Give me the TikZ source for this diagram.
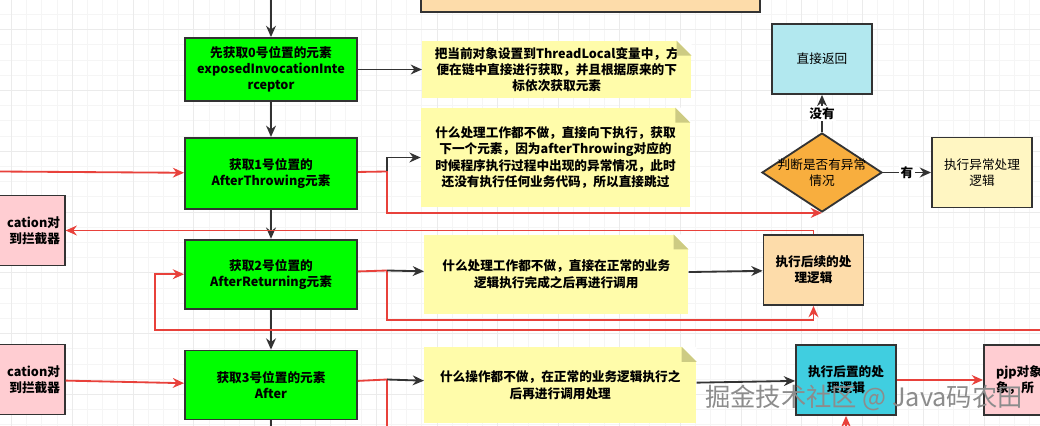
\documentclass[tikz,border=0pt]{standalone}
\usepackage{fontspec}
\setmainfont{Noto Sans CJK SC}
\usepackage{xcolor}
\usepackage{tikz}
\usetikzlibrary{arrows.meta,positioning,calc,shapes.geometric}

\definecolor{stagegreen}{HTML}{00FF00}
\definecolor{noteyellow}{HTML}{FFFCAA}
\definecolor{notefold}{HTML}{CDCB83}
\definecolor{peach}{HTML}{FDDCAA}
\definecolor{paleblue}{HTML}{B2E8EF}
\definecolor{paleyellow}{HTML}{FFF6C2}
\definecolor{cyanbox}{HTML}{40CEE0}
\definecolor{pinkbox}{HTML}{FFCDD2}
\definecolor{diamondorange}{HTML}{F8AE3E}
\definecolor{flowred}{HTML}{E8413B}
\definecolor{linegray}{HTML}{333333}

\newcommand{\boldtext}{\fontsize{9}{11.5}\selectfont\bfseries}
\newcommand{\plaintext}{\fontsize{9}{11.5}\selectfont}

\begin{document}
\begin{tikzpicture}[
  x=0.025cm, y=-0.025cm,
  >={Stealth[length=8pt,width=7pt]},
  stage/.style={rectangle, draw=linegray, line width=1.3pt, fill=stagegreen, minimum width=4.3cm, minimum height=1.725cm, font=\boldtext, align=center},
  note/.style={rectangle, fill=noteyellow, inner sep=2pt, font=\boldtext, align=center},
  sub/.style={rectangle, draw=linegray, line width=1.3pt, minimum width=2.5cm, minimum height=1.75cm, font=\plaintext, align=center},
  decide/.style={diamond, draw=linegray, line width=1.3pt, fill=diamondorange, minimum width=3cm, minimum height=1.975cm, inner sep=0pt},
  tag/.style={fill=white, inner sep=1pt, font=\boldtext},
  darkflow/.style={draw=linegray, line width=1.3pt},
  redflow/.style={draw=flowred, line width=1.3pt},
  watermark/.style={font=\fontsize{18}{20}\selectfont, text=black!45}
]

\useasboundingbox (0,0) rectangle (1040,426);
\clip (0,0) rectangle (1040,426);
\fill[white] (0,0) rectangle (1040,426);

% background grid
\foreach \i in {0,...,69} {
  \draw[black!4, line width=0.5pt] ({-3.8+15.2*\i},0) -- ({-3.8+15.2*\i},426);
}
\foreach \i in {0,...,29} {
  \draw[black!4, line width=0.5pt] (0,{-0.8+15.2*\i}) -- (1040,{-0.8+15.2*\i});
}
\foreach \i in {0,...,17} {
  \draw[black!8, line width=0.5pt] ({11.4+60.8*\i},0) -- ({11.4+60.8*\i},426);
}
\foreach \i in {0,...,7} {
  \draw[black!8, line width=0.5pt] (0,{29.6+60.8*\i}) -- (1040,{29.6+60.8*\i});
}

% boxes
\node[sub, fill=peach, minimum width=8.475cm, minimum height=1.1cm] (prev) at (590.5,-10) {};

\node[stage, minimum height=1.575cm] (get0) at (271,69.5) {先获取0号位置的元素\\exposedInvocationInte\\rceptor};
\node[stage, minimum height=1.775cm, below=0.875cm of get0] (get1) {获取1号位置的\\AfterThrowing元素};
\node[stage, below=0.725cm of get1] (get2) {获取2号位置的\\AfterReturning元素};
\node[stage, below=1cm of get2] (get3) {获取3号位置的元素\\After};

\node[note, minimum width=6.725cm, minimum height=1.425cm, right=1.6cm of get0] (note1) {把当前对象设置到ThreadLocal变量中，方\\便在链中直接进行获取，并且根据原来的下\\标依次获取元素};
\node[note, minimum width=6.725cm, minimum height=2.475cm] (note2) at (555.5,157.5) {什么处理工作都不做，直接向下执行，获取\\下一个元素，因为afterThrowing对应的\\时候程序执行过程中出现的异常情况，此时\\还没有执行任何业务代码，所以直接跳过};
\node[note, minimum width=6.6cm, minimum height=1.975cm, right=1.65cm of get2] (note3) {什么处理工作都不做，直接在正常的业务\\逻辑执行完成之后再进行调用};
\node[note, minimum width=6.8cm, minimum height=1.9cm, right=1.65cm of get3] (note4) {什么操作都不做，在正常的业务逻辑执行之\\后再进行调用处理};

\foreach \n in {note1,note2,note3,note4} {
  \fill[white] (\n.north east) -- ++(-15,0) -- ++(15,15) -- cycle;
  \fill[notefold] ($(\n.north east)+(-15,0)$) -- ++(0,15) -- ++(15,0) -- cycle;
}

\node[sub, fill=paleblue] (ret) at (822,59) {直接返回};
\node[decide, label={[font=\plaintext, align=center]center:判断是否有异常\\情况}] (chk) at (822,172.5) {};
\node[sub, fill=paleyellow] (handle) at (982,172.5) {执行异常处理\\逻辑};
\node[sub, fill=peach, font=\boldtext] (after) at (813.5,270) {执行后续的处\\理逻辑};
\node[sub, fill=cyanbox, font=\boldtext] (post) at (846,380) {执行后置的处\\理逻辑};

\node[sub, fill=pinkbox, font=\boldtext, text width=2.3cm, align=right] (back1) at (14,230.5) {cation对\\到拦截器};
\node[sub, fill=pinkbox, font=\boldtext, text width=2.3cm, align=right] (back2) at (14,379.5) {cation对\\到拦截器};
\node[sub, fill=pinkbox, font=\boldtext, text width=1.9cm, align=left] (pjp) at (1034,380) {pjp对象\\象，所};

% main chain
\coordinate (entry) at (271,-2);
\coordinate (exit) at (271,430);
\draw[darkflow, ->] (entry) -- (get0);
\draw[darkflow, ->] (get0) -- (get1);
\draw[darkflow, ->] (get1) -- (get2);
\draw[darkflow, ->] (get2) -- (get3);
\draw[darkflow] (get3) -- (exit);
\draw[darkflow, ->] (get0) -- (note1);

% AfterThrowing
\coordinate (in1) at (-2,171.5);
\coordinate (fork1) at (387,171.5);
\draw[redflow, ->] (in1) -- (get1);
\draw[redflow] (get1) -- (fork1);
\draw[redflow, ->] (fork1) |- (chk.south);
\draw[darkflow, ->] (fork1) |- (note2.west);
\draw[darkflow, ->] (chk) -- node[tag] {没有} (ret);
\draw[darkflow, ->] (chk) -- node[tag] {有} (handle);
\draw[redflow, ->] (after.north) |- (back1.east);

% AfterReturning
\coordinate (loopR) at (1045,330);
\coordinate (loopL) at (155,330);
\coordinate (fork2) at (387,270.5);
\coordinate (drop2) at (387,320);
\draw[redflow, ->] (loopR) -- (loopL) |- (get2.west);
\draw[redflow] (get2) -- (fork2);
\draw[redflow, ->] (fork2) -- (drop2) -| (after.south);
\draw[darkflow, ->] (fork2) -- (note3);
\draw[darkflow, ->] (note3) -- (after);

% After
\coordinate (fork3) at (387,379.5);
\coordinate (drop3) at (387,430);
\coordinate (up4) at (846,430);
\draw[redflow, ->] (back2) -- (get3);
\draw[redflow] (get3) -- (fork3) -- (drop3);
\draw[darkflow, ->] (fork3) -- (note4);
\draw[darkflow, ->] (note4) -- (post);
\draw[redflow, ->] (up4) -- (post.south);
\draw[redflow, ->] (post) -- (pjp);

\node[watermark] (wm) at (864,398) {掘金技术社区 @ Java码农田};

\end{tikzpicture}
\end{document}
